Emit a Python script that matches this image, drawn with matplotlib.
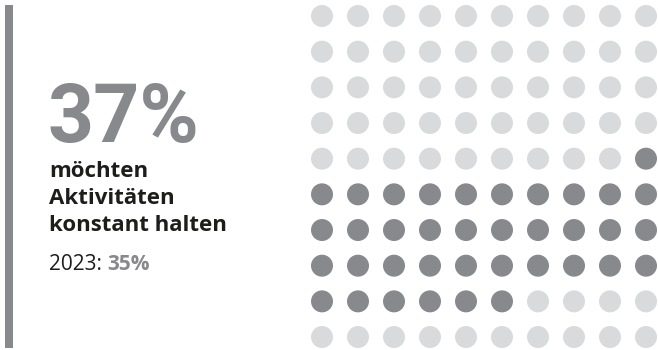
import numpy as np
import matplotlib
matplotlib.use("Agg")
import matplotlib.pyplot as plt

# Anteil der Befragten, die Aktivitäten konstant halten möchten
share = 37
prev_share = 35
prev_year = "2023"
label_lines = ["möchten", "Aktivitäten", "konstant halten"]
n_rows, n_cols = 10, 10
first_filled = 49  # erster eingefärbter Punkt (zeilenweise gezählt)

dark = "#88898d"
light = "#d9dadc"
ink = "#1d1d1b"

fig = plt.figure(figsize=(6.58, 3.5), dpi=100)
W, H = 658, 350

# Hintergrund-Achse in Pixelkoordinaten für Text und Balken
bg = fig.add_axes([0, 0, 1, 1])
bg.set_xlim(0, W)
bg.set_ylim(H, 0)
bg.axis("off")
bg.add_patch(plt.Rectangle((5, 5), 8, 343, color=dark, lw=0))

bg.text(48, 142, f"{share}%", fontsize=58, fontweight="bold", color=dark,
        family="Roboto", va="baseline", ha="left")
font = "Open Sans"
for i, line in enumerate(label_lines):
    bg.text(49, 177 + 27 * i, line, fontsize=16, fontweight="bold", color=ink,
            family=font, va="baseline", ha="left")
t1 = bg.text(49, 270, f"{prev_year}: ", fontsize=15, color=ink,
             family=font, va="baseline", ha="left")
fig.canvas.draw()
x_end = bg.transData.inverted().transform(
    t1.get_window_extent(fig.canvas.get_renderer()))[1, 0]
bg.text(x_end, 270, f"{prev_share}%", fontsize=15, fontweight="bold",
        color=dark, family=font, va="baseline", ha="left")

# Punktraster 10 x 10
x0, dx = 322, 36
y0, dy = 16, 35.67
ax = fig.add_axes([(x0 - dx / 2) / W, 1 - (y0 + (n_rows - 0.5) * dy) / H,
                   dx * n_cols / W, dy * n_rows / H])
ax.set_xlim(-0.5, n_cols - 0.5)
ax.set_ylim(n_rows - 0.5, -0.5)
ax.axis("off")

idx = np.arange(n_rows * n_cols)
rows, cols = idx // n_cols, idx % n_cols
filled = (idx >= first_filled) & (idx < first_filled + share)
colors = np.where(filled, dark, light)
ax.scatter(cols, rows, s=(22 * 0.72) ** 2, c=colors, lw=0, clip_on=False)

fig.savefig("out.png", dpi=100)
